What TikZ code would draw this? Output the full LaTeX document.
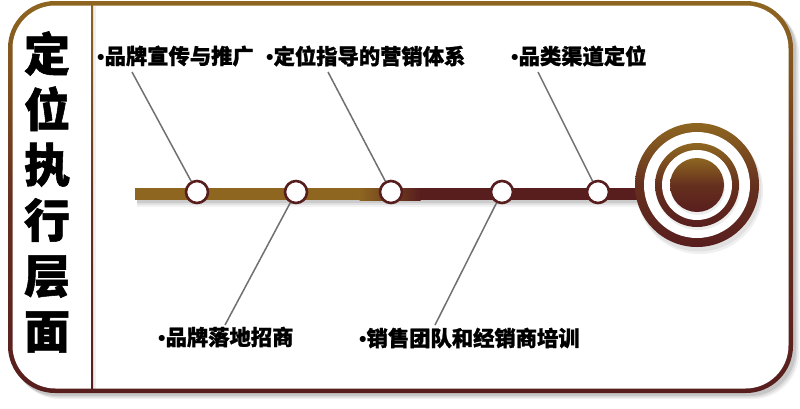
\documentclass[tikz,border=0pt]{standalone}
\usepackage{fontspec}
\newfontfamily\cjk{Noto Sans CJK SC}[BoldFeatures={FakeBold=1.2}]
\newfontfamily\latinb{Liberation Sans}
\definecolor{gold}{RGB}{142,102,32}
\definecolor{maroon}{RGB}{88,30,30}
\definecolor{linegray}{RGB}{112,112,112}
\begin{document}
\begin{tikzpicture}[x=1pt,y=-1pt,
  dot/.style={circle, draw=maroon, line width=2.6pt, fill=white, minimum size=22pt, inner sep=0pt},
  lbl/.style={anchor=west, inner sep=0pt, font=\cjk\bfseries\fontsize{21.3}{24}\selectfont},
  title/.style={align=center, inner sep=0pt, font=\cjk\bfseries\fontsize{46}{55.4}\selectfont},
  conn/.style={draw=linegray, line width=1.5pt},
  goldshade/.style={top color=gold, bottom color=maroon, middle color=maroon!75!gold}
]
\useasboundingbox (0,0) rectangle (800,408);
% frame shadow
\foreach \o/\op in {6/0.06,4.5/0.08,3/0.10}{
  \fill[black, opacity=\op, rounded corners=46] (8+\o,1+\o) rectangle (793+\o,393+\o);
}
% frame
\shade[goldshade, rounded corners=47] (8,1) rectangle (793,393);
\fill[white, rounded corners=43] (12.5,5.5) rectangle (788.5,388.5);
% divider
\shade[goldshade] (91,4) rectangle (93,390);
\fill[black, opacity=0.06] (93,6) rectangle (96,390);
% title
\node[title] (title) at (47,192) {定\\位\\执\\行\\层\\面};
% bar shadow
\foreach \o/\op in {7/0.05,5/0.07,3/0.09}{
  \fill[black, opacity=\op] (137,188+\o) rectangle (650,200+\o);
}
% bar
\fill[gold] (135,188) rectangle (360,200);
\shade[left color=gold, right color=maroon] (359.5,188) rectangle (420.5,200);
\fill[maroon] (420,188) rectangle (650,200);
% target shadow
\fill[black, opacity=0.06] (700,191) circle (63);
\fill[black, opacity=0.06] (699,189) circle (62.5);
% target
\shade[goldshade] (697,185) circle (62);
\fill[white] (697,185) circle (53);
\fill[black, opacity=0.07] (698,188) circle (42);
\shade[goldshade] (697,185) circle (42);
\fill[white] (697,185) circle (35);
\fill[black, opacity=0.07] (698,188) circle (27);
\shade[goldshade] (697,185) circle (27);
% dots
\node[dot] (c1) at (197,192) {};
\node[dot] (c2) at (296,192) {};
\node[dot] (c3) at (391,192) {};
\node[dot] (c4) at (502,192) {};
\node[dot] (c5) at (598,192) {};
% labels
\node[lbl] (l1) at (97,56) {{\latinb\bfseries •}品牌宣传与推广};
\node[lbl] (l2) at (266,56) {{\latinb\bfseries •}定位指导的营销体系};
\node[lbl] (l3) at (511,56) {{\latinb\bfseries •}品类渠道定位};
\node[lbl] (l4) at (158,337) {{\latinb\bfseries •}品牌落地招商};
\node[lbl] (l5) at (359,338) {{\latinb\bfseries •}销售团队和经销商培训};
% connector ends
\coordinate (p1) at (132,72);
\coordinate (p2) at (328,72);
\coordinate (p3) at (538,72);
\coordinate (p4) at (225,325);
\coordinate (p5) at (435,325);
\draw[conn] (p1) -- (c1);
\draw[conn] (p2) -- (c3);
\draw[conn] (p3) -- (c5);
\draw[conn] (c2) -- (p4);
\draw[conn] (c4) -- (p5);
\end{tikzpicture}
\end{document}
